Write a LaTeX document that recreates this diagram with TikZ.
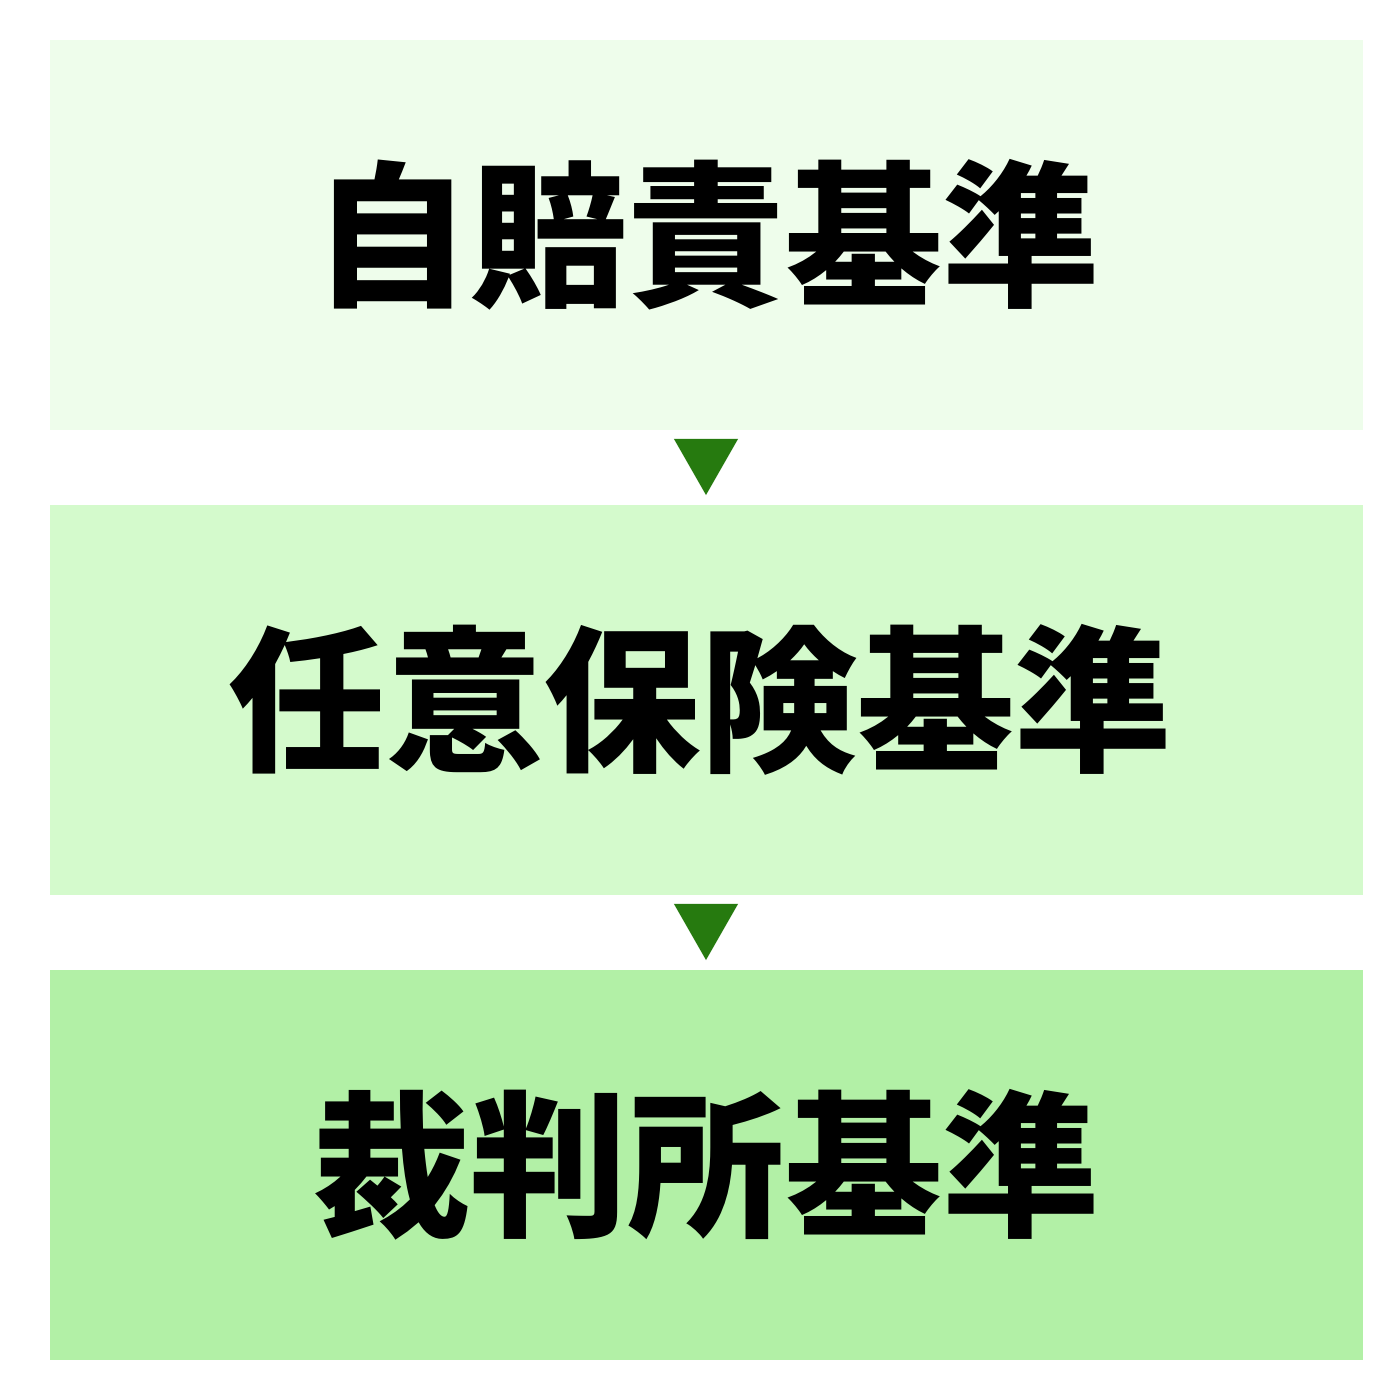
\documentclass[tikz,border=0pt]{standalone}
\usepackage{fontspec}
\newfontfamily\cjk{Noto Sans CJK JP}
\definecolor{boxa}{HTML}{EEFDEB}
\definecolor{boxb}{HTML}{D4FACC}
\definecolor{boxc}{HTML}{B2F0A6}
\definecolor{tri}{HTML}{267A0F}
\begin{document}
\begin{tikzpicture}[x=0.01cm,y=-0.01cm]
\tikzset{
  stage/.style={minimum width=13.13cm, minimum height=3.9cm, inner sep=0pt, outer sep=0pt, font=\cjk\bfseries\fontsize{44.7}{50}\selectfont, text=black},
  tip/.style={fill=tri, draw=none}
}
\useasboundingbox (0,0) rectangle (1400,1400);
\fill[white] (0,0) rectangle (1400,1400);
\node[stage, fill=boxa] (a) at (706.5,235) {\raisebox{-0.03cm}{自賠責基準}};
\node[stage, fill=boxb] (b) at (706.5,700) {\raisebox{-0.03cm}{\hspace*{-0.12cm}任意保険基準}};
\node[stage, fill=boxc] (c) at (706.5,1165) {\raisebox{-0.03cm}{裁判所基準}};
\coordinate (t1) at (706,467);
\coordinate (t2) at (706,932);
\fill[tip] ([xshift=-0.32cm,yshift=0.28cm]t1) -- ([xshift=0.32cm,yshift=0.28cm]t1) -- ([yshift=-0.28cm]t1) -- cycle;
\fill[tip] ([xshift=-0.32cm,yshift=0.28cm]t2) -- ([xshift=0.32cm,yshift=0.28cm]t2) -- ([yshift=-0.28cm]t2) -- cycle;
\end{tikzpicture}
\end{document}
